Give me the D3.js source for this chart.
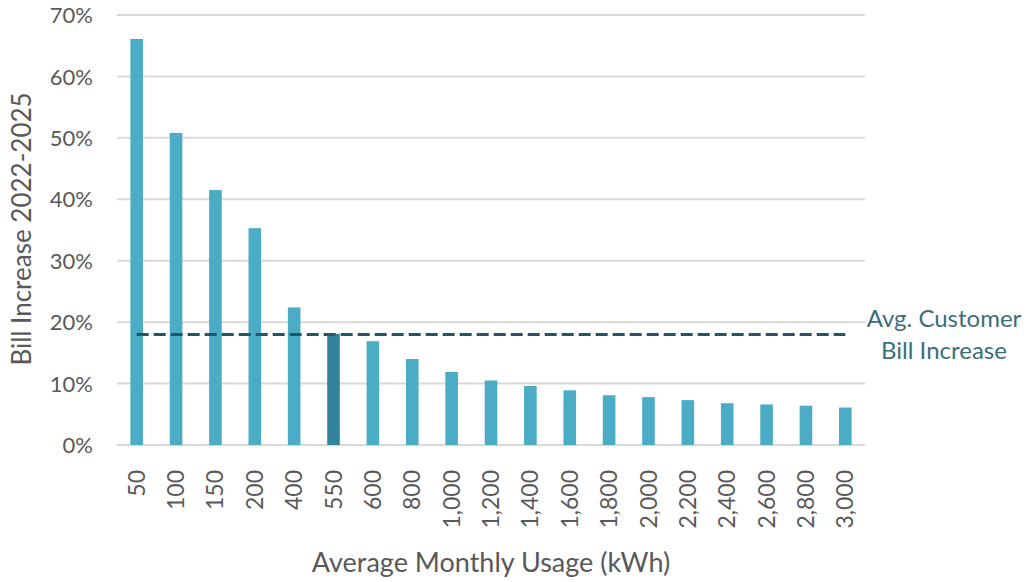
<!DOCTYPE html>
<html>
<head>
<meta charset="utf-8">
<script src="https://cdn.jsdelivr.net/npm/d3@7"></script>
<style>
  body { margin: 0; background: #fff; }
  svg text { font-family: Lato, "Open Sans", sans-serif; }
</style>
</head>
<body>
<svg id="chart" width="1029" height="582"></svg>
<script>
// usage categories (kWh) and bill increase 2022-2025
var usage = ["50", "100", "150", "200", "400", "550", "600", "800", "1,000", "1,200",
  "1,400", "1,600", "1,800", "2,000", "2,200", "2,400", "2,600", "2,800", "3,000"];
var increase = [0.661, 0.508, 0.415, 0.353, 0.224, 0.181, 0.169, 0.140, 0.119, 0.105,
  0.096, 0.089, 0.081, 0.078, 0.073, 0.068, 0.066, 0.064, 0.061];
var avgIncrease = 0.18;
var highlight = "550";
var yTicks = [0, 0.1, 0.2, 0.3, 0.4, 0.5, 0.6, 0.7];

var svg = d3.select("#chart");
var mLeft = 117, mRight = 865, mTop = 15, mBottom = 445;

var x = d3.scaleBand()
  .domain(usage)
  .range([mLeft, mRight])
  .paddingInner(0.68)
  .paddingOuter(0.34);
var y = d3.scaleLinear().domain([0, 0.7]).range([mBottom, mTop]);

// gridlines
svg.append("g")
  .selectAll("line")
  .data(yTicks)
  .enter().append("line")
  .attr("x1", mLeft).attr("x2", mRight)
  .attr("y1", function(d) { return y(d); })
  .attr("y2", function(d) { return y(d); })
  .attr("stroke", "#d9d9d9")
  .attr("stroke-width", 2);

// y axis labels
var yAxis = svg.append("g")
  .attr("transform", "translate(" + (mLeft - 24) + ",0)")
  .call(d3.axisLeft(y).tickValues(yTicks).tickFormat(d3.format(".0%")).tickSize(0).tickPadding(0));
yAxis.select(".domain").remove();
yAxis.selectAll("text")
  .attr("fill", "#595959")
  .style("font-size", "22px")
  .attr("dy", "0.35em");

// bars
svg.append("g")
  .selectAll("rect")
  .data(usage)
  .enter().append("rect")
  .attr("x", function(d) { return x(d); })
  .attr("width", x.bandwidth())
  .attr("y", function(d, i) { return y(increase[i]); })
  .attr("height", function(d, i) { return y(0) - y(increase[i]); })
  .attr("fill", function(d) { return d == highlight ? "#31849b" : "#4bacc6"; });

// avg line
var firstX = x(usage[0]) + x.bandwidth() / 2;
var lastX = x(usage[usage.length - 1]) + x.bandwidth() / 2;
svg.append("line")
  .attr("x1", firstX).attr("x2", lastX)
  .attr("y1", y(avgIncrease)).attr("y2", y(avgIncrease))
  .attr("stroke", "#215868")
  .attr("stroke-width", 3)
  .attr("stroke-dasharray", "12,5");

var lbl = svg.append("text")
  .attr("text-anchor", "middle")
  .attr("fill", "#3b6e7c")
  .style("font-size", "24px");
lbl.append("tspan").attr("x", 944).attr("y", 327).text("Avg. Customer");
lbl.append("tspan").attr("x", 944).attr("y", 359).text("Bill Increase");

// x axis labels
var xAxis = svg.append("g")
  .attr("transform", "translate(0," + mBottom + ")")
  .call(d3.axisBottom(x).tickSize(0).tickPadding(0));
xAxis.select(".domain").remove();
xAxis.selectAll("text")
  .attr("transform", "rotate(-90)")
  .attr("x", -25)
  .attr("y", 0)
  .attr("dy", "0.35em")
  .attr("text-anchor", "end")
  .attr("fill", "#595959")
  .style("font-size", "23px");

// axis titles
svg.append("text")
  .attr("x", 491).attr("y", 572)
  .attr("text-anchor", "middle")
  .attr("fill", "#595959")
  .style("font-size", "27px")
  .text("Average Monthly Usage (kWh)");

svg.append("text")
  .attr("transform", "translate(31,229) rotate(-90)")
  .attr("text-anchor", "middle")
  .attr("fill", "#595959")
  .style("font-size", "26px")
  .text("Bill Increase 2022-2025");
</script>
</body>
</html>
